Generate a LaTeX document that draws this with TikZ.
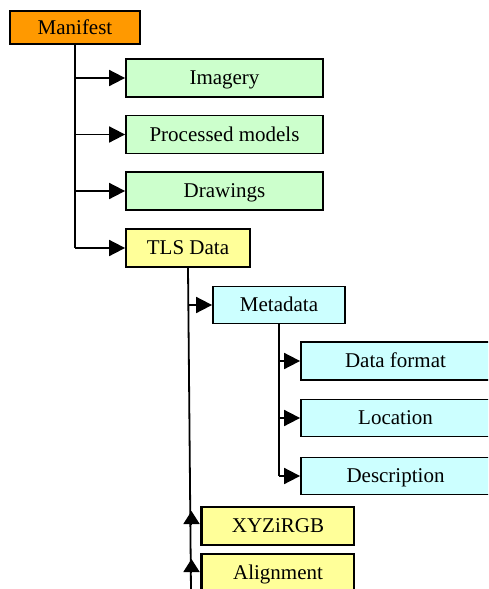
\documentclass[tikz,border=0pt]{standalone}
\usepackage{fontspec}
\setmainfont{Liberation Serif}
\usetikzlibrary{arrows.meta,calc}
\definecolor{orangefill}{HTML}{FF9900}
\definecolor{greenfill}{HTML}{CCFFCC}
\definecolor{yellowfill}{HTML}{FFFF99}
\definecolor{cyanfill}{HTML}{CCFFFF}
\begin{document}
\begin{tikzpicture}[x=1pt,y=-1pt,
  box/.style={draw=black, line width=1.8pt, rectangle, inner sep=0pt,
    font=\fontsize{21}{23}\selectfont, text height=13.5pt, text depth=0pt, anchor=center},
  orangebox/.style={box, fill=orangefill},
  greenbox/.style={box, fill=greenfill},
  yellowbox/.style={box, fill=yellowfill},
  cyanbox/.style={box, fill=cyanfill},
  conn/.style={draw=black, line width=1.8pt},
  arr/.style={conn, -{Triangle[length=16pt,width=16pt]}},
  uparr/.style={conn, -{Triangle[length=13pt,width=16pt]}}
]
\clip (0,0) rectangle (488,589);
\fill[white] (0,0) rectangle (488,589);

\node[orangebox, minimum width=130pt, minimum height=33pt] (manifest) at (75,27.5) {Manifest};
\node[greenbox, minimum width=197pt, minimum height=38pt] (imagery) at (224.5,78) {Imagery};
\node[greenbox, minimum width=197pt, minimum height=38pt] (procmodels) at (224.5,134.5) {Processed models};
\node[greenbox, minimum width=197pt, minimum height=38pt] (drawings) at (224.5,191) {Drawings};
\node[yellowbox, minimum width=124pt, minimum height=38pt] (tls) at (188,248) {TLS Data};
\node[cyanbox, minimum width=132pt, minimum height=37pt] (metadata) at (279,305) {Metadata};
\node[cyanbox, minimum width=189pt, minimum height=38pt] (dataformat) at (395.5,361) {Data format};
\node[cyanbox, minimum width=189pt, minimum height=37pt] (location) at (395.5,418) {Location};
\node[cyanbox, minimum width=189pt, minimum height=37pt] (description) at (395.5,476) {Description};

% trunk from TLS Data
\coordinate (trunkend) at (191,592);
\draw[conn] (tls.south) -- (trunkend);

\node[yellowbox, minimum width=152pt, minimum height=38pt] (xyz) at (278,526) {XYZiRGB};
\node[yellowbox, minimum width=152pt, minimum height=38pt] (alignment) at (278,573) {Alignment};

% Manifest children
\draw[conn] (manifest.south) -- (manifest.south |- tls.west);
\draw[arr] (manifest.south |- imagery.west) -- (imagery.west);
\draw[arr] (manifest.south |- procmodels.west) -- (procmodels.west);
\draw[arr] (manifest.south |- drawings.west) -- (drawings.west);
\draw[arr] (manifest.south |- tls.west) -- (tls.west);

% TLS Data -> Metadata
\coordinate (tlsmeta) at (188.3,305);
\draw[arr] (tlsmeta) -- (metadata.west);

% Metadata children
\draw[conn] (metadata.south) -- (metadata.south |- description.west);
\draw[arr] (metadata.south |- dataformat.west) -- (dataformat.west);
\draw[arr] (metadata.south |- location.west) -- (location.west);
\draw[arr] (metadata.south |- description.west) -- (description.west);

% upward arrowheads at XYZiRGB and Alignment
\coordinate (xyzbase) at (191.5,524);
\coordinate (xyztip) at (191.5,511);
\coordinate (alibase) at (191.5,572);
\coordinate (alitip) at (191.5,559);
\draw[uparr] (xyzbase) -- (xyztip);
\draw[uparr] (alibase) -- (alitip);
\draw[conn] (xyz.north west) -- (xyz.south west);
\draw[conn] (alignment.north west) -- (alignment.south west);
\end{tikzpicture}
\end{document}
